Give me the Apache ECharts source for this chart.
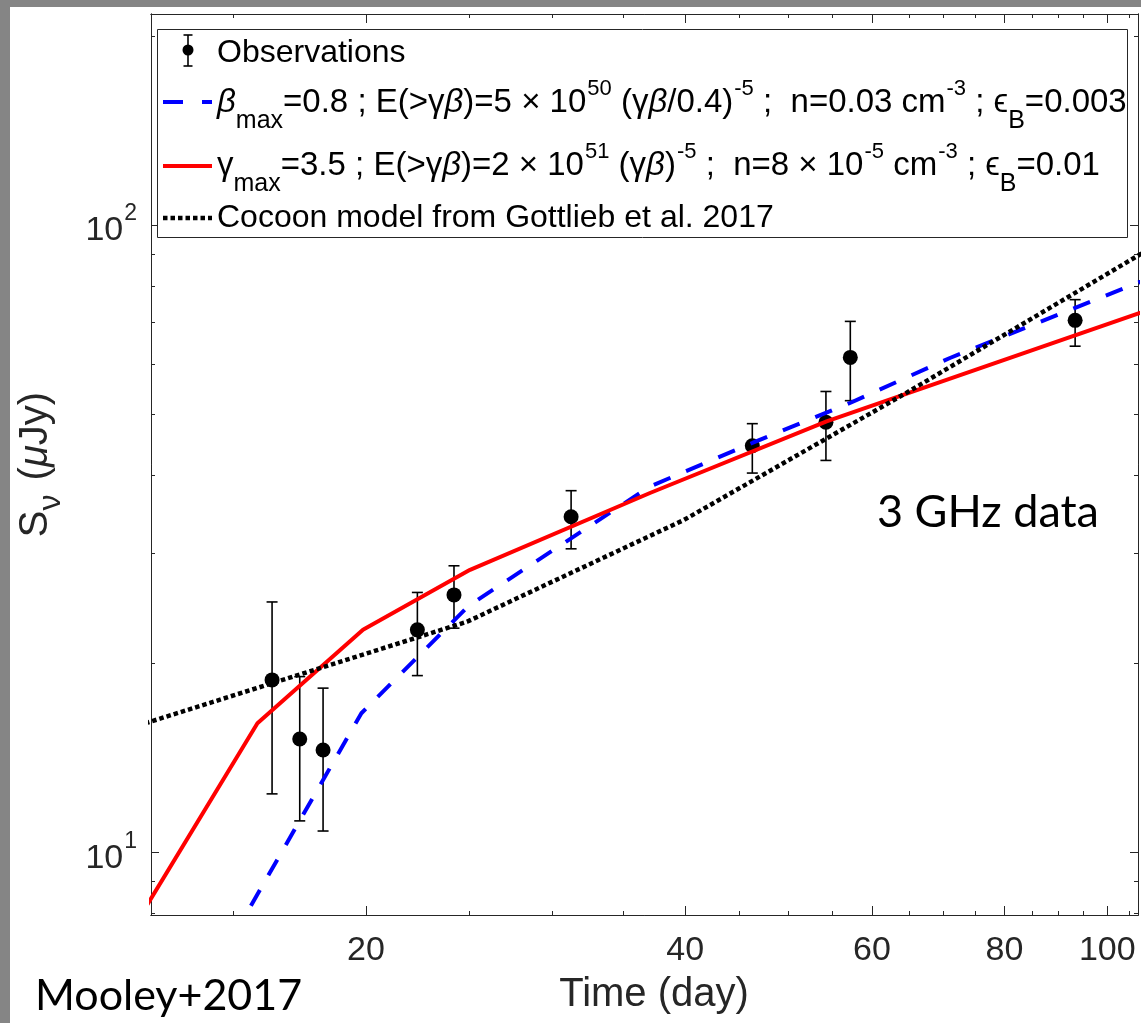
<!DOCTYPE html>
<html><head><meta charset="utf-8">
<script src="https://cdn.jsdelivr.net/npm/echarts@6/dist/echarts.min.js"></script>
<style>html,body{margin:0;padding:0;background:#fff}#c{width:1141px;height:1023px}</style>
</head><body><div id="c"></div>
<script>
// ---------------- data ----------------
const obsDay  = [16.31, 17.32, 18.22, 22.36, 24.21, 31.22, 46.27, 54.29, 57.24, 93.26];
const obsFlux = [18.84, 15.17, 14.57, 22.64, 25.74, 34.29, 44.5, 48.49, 61.54, 70.5];
const obsLow  = [12.4, 11.23, 10.82, 19.14, 22.78, 30.48, 40.25, 42.16, 52.5, 64.12];
const obsHigh = [25.08, 19.07, 18.28, 25.97, 28.64, 37.73, 48.25, 54.3, 70.23, 76.06];

const blueDay  = [15, 19.8, 25, 37.05, 46.27, 57.2, 71.06, 110];
const blueFlux = [7.36, 16.67, 24.74, 38.32, 44.95, 52.05, 61.4, 82.5];

const redDay  = [12, 15.8, 19.87, 25.07, 37.05, 54.37, 110];
const redFlux = [7.47, 16.07, 22.64, 28.22, 37.41, 48.64, 73.5];

const blackDay  = [12, 24.9, 39.9, 64.45, 110];
const blackFlux = [15.8, 23.32, 33.9, 53.86, 92.0];

const xTickLabels = [20, 40, 60, 80, 100];
const xMinorTicks = [15, 25, 30, 35, 45, 50, 55, 65, 70, 75, 85, 90, 95, 105];
const yTickLabels = [10, 100];
const yMinorTicks = [8, 9, 20, 30, 40, 50, 60, 70, 80, 90, 200];

const xRange = [12.54, 106.9];
const yRange = [7.95, 217];

// ---------------- style ----------------
const F = '"Liberation Sans", Arial, Helvetica, sans-serif';
const G = 'Lato, "Open Sans", sans-serif';
const TXT = '#262626';

const zip = (a, b) => a.map((v, i) => [v, b[i]]);

function xAx(pos, ticks, len, labels) {
  return {
    type: 'log', logBase: 10, min: xRange[0], max: xRange[1], position: pos,
    nameMoveOverlap: false,
    axisLine: { show: true, onZero: false, lineStyle: { color: TXT, width: 1 } },
    axisTick: { show: true, inside: true, length: len, customValues: ticks, lineStyle: { color: TXT, width: 1 } },
    axisLabel: labels ? {
      show: true, customValues: ticks, margin: 19, color: TXT, fontFamily: F, fontSize: 34,
      formatter: v => String(Math.round(v))
    } : { show: false },
    splitLine: { show: false }, minorTick: { show: false }, minorSplitLine: { show: false }
  };
}
function yAx(pos, ticks, len, labels) {
  return {
    type: 'log', logBase: 10, min: yRange[0], max: yRange[1], position: pos,
    nameMoveOverlap: false,
    axisLine: { show: true, onZero: false, lineStyle: { color: TXT, width: 1 } },
    axisTick: { show: true, inside: true, length: len, customValues: ticks, lineStyle: { color: TXT, width: 1 } },
    axisLabel: labels ? {
      show: true, customValues: ticks, margin: 14, color: TXT, fontFamily: F,
      formatter: v => '{b|10}{s|' + Math.round(Math.log10(v)) + '}',
      rich: {
        b: { fontSize: 34, fontFamily: F, color: TXT, padding: [12, 0, 0, 0], verticalAlign: 'middle' },
        s: { fontSize: 23, fontFamily: F, color: TXT, padding: [0, 0, 22, 1], verticalAlign: 'middle' }
      }
    } : { show: false },
    splitLine: { show: false }, minorTick: { show: false }, minorSplitLine: { show: false }
  };
}

const xAxes = [xAx('bottom', xTickLabels, 9, true), xAx('bottom', xMinorTicks, 4, false),
               xAx('top', xTickLabels, 9, false), xAx('top', xMinorTicks, 4, false)];
xAxes[0].name = 'Time (day)';
xAxes[0].nameLocation = 'middle';
xAxes[0].nameGap = 60;
xAxes[0].nameTextStyle = { color: TXT, fontFamily: F, fontSize: 40, padding: [0, 0, 0, 19] };

const yAxes = [yAx('left', yTickLabels, 8, true), yAx('left', yMinorTicks, 4, false),
               yAx('right', yTickLabels, 8, false), yAx('right', yMinorTicks, 4, false)];
yAxes[0].name = '{a|S}{sub|ν}{a| (}{i|μ}{a|Jy)}';
yAxes[0].nameLocation = 'middle';
yAxes[0].nameGap = 84;
yAxes[0].nameTextStyle = {
  color: TXT, fontFamily: F, fontSize: 40,
  rich: {
    a: { fontSize: 40, fontFamily: F, color: TXT, verticalAlign: 'middle' },
    i: { fontSize: 40, fontFamily: F, color: TXT, fontStyle: 'italic', verticalAlign: 'middle' },
    sub: { fontSize: 32, fontFamily: F, color: TXT, padding: [30, 3, 0, 0], verticalAlign: 'middle' }
  }
};

// legend rich styles
const LFS = 33;
const legRich = {
  bi: { fontSize: LFS, fontFamily: F, fontStyle: 'italic', fill: '#000', verticalAlign: 'middle' },
  g: { fontSize: LFS, fontFamily: F, fill: '#000', verticalAlign: 'middle' },
  sub: { fontSize: 25, fontFamily: F, fill: '#000', padding: [37, 0, 0, 0], verticalAlign: 'middle' },
  sup: { fontSize: 22, fontFamily: F, fill: '#000', padding: [0, 0, 28, 1], verticalAlign: 'middle' }
};
const row2 = '{bi|β}{sub|max}=0.8 ; E(>γ{bi|β})=5 × 10{sup|50} (γ{bi|β}/0.4){sup|-5} ;  n=0.03 cm{sup|-3} ; ϵ{sub|B}=0.003';
const row3 = '{g|γ}{sub|max}=3.5 ; E(>γ{bi|β})=2 × 10{sup|51} (γ{bi|β}){sup|-5} ;  n=8 × 10{sup|-5} cm{sup|-3} ; ϵ{sub|B}=0.01';

function legText(y, text, size) {
  return { type: 'text', z: 102, style: { x: 217, y: y, text: text, rich: legRich,
    fontSize: size || LFS, fontFamily: F, fill: '#000', align: 'left', verticalAlign: 'middle' } };
}

const chart = echarts.init(document.getElementById('c'), null, { renderer: 'canvas' });
chart.setOption({
  backgroundColor: '#ffffff',
  animation: false,
  grid: { left: 151, right: 3, top: 14, bottom: 108, outerBoundsMode: 'none', containLabel: false },
  xAxis: xAxes,
  yAxis: yAxes,
  series: [
    {
      name: 'Observations', type: 'custom', xAxisIndex: 0, yAxisIndex: 0, z: 2,
      data: obsDay.map((d, i) => [d, obsLow[i], obsHigh[i]]),
      encode: { x: 0, y: [1, 2] },
      renderItem: function (params, api) {
        const x = api.value(0);
        const top = api.coord([x, api.value(2)]);
        const bot = api.coord([x, api.value(1)]);
        const w = 5.5, st = { stroke: '#000', lineWidth: 1.6 };
        return { type: 'group', children: [
          { type: 'line', shape: { x1: top[0], y1: top[1], x2: bot[0], y2: bot[1] }, style: st },
          { type: 'line', shape: { x1: top[0] - w, y1: top[1], x2: top[0] + w, y2: top[1] }, style: st },
          { type: 'line', shape: { x1: bot[0] - w, y1: bot[1], x2: bot[0] + w, y2: bot[1] }, style: st }
        ]};
      }
    },
    {
      name: 'Observations', type: 'scatter', xAxisIndex: 0, yAxisIndex: 0, z: 2,
      symbol: 'circle', symbolSize: 15, itemStyle: { color: '#000', opacity: 1 },
      data: zip(obsDay, obsFlux)
    },
    {
      name: 'beta', type: 'line', xAxisIndex: 0, yAxisIndex: 0, z: 3, symbol: 'none', clip: true,
      lineStyle: { color: '#0000ff', width: 4, type: [18, 17], cap: 'butt' },
      data: zip(blueDay, blueFlux)
    },
    {
      name: 'gamma', type: 'line', xAxisIndex: 0, yAxisIndex: 0, z: 4, symbol: 'none', clip: true,
      lineStyle: { color: '#ff0000', width: 4 },
      data: zip(redDay, redFlux)
    },
    {
      name: 'cocoon', type: 'line', xAxisIndex: 0, yAxisIndex: 0, z: 5, symbol: 'none', clip: true,
      lineStyle: { color: '#000000', width: 4.5, type: [4.5, 3], cap: 'butt' },
      data: zip(blackDay, blackFlux)
    }
  ],
  graphic: [
    { type: 'rect', z: 0, shape: { x: 0, y: 0, width: 10, height: 1023 }, style: { fill: '#858585' } },
    { type: 'rect', z: 0, shape: { x: 0, y: 0, width: 1141, height: 7 }, style: { fill: '#858585' } },
    { type: 'rect', z: 100, shape: { x: 157.5, y: 29.5, width: 970, height: 208 },
      style: { fill: '#ffffff', stroke: TXT, lineWidth: 1 } },
    { type: 'line', z: 101, shape: { x1: 188, y1: 35, x2: 188, y2: 66 }, style: { stroke: '#000', lineWidth: 1.6 } },
    { type: 'line', z: 101, shape: { x1: 183.5, y1: 35, x2: 192.5, y2: 35 }, style: { stroke: '#000', lineWidth: 1.6 } },
    { type: 'line', z: 101, shape: { x1: 183.5, y1: 66, x2: 192.5, y2: 66 }, style: { stroke: '#000', lineWidth: 1.6 } },
    { type: 'circle', z: 101, shape: { cx: 188, cy: 50, r: 5.5 }, style: { fill: '#000' } },
    { type: 'line', z: 101, shape: { x1: 163, y1: 102, x2: 212, y2: 102 }, style: { stroke: '#0000ff', lineWidth: 4, lineDash: [20, 19] } },
    { type: 'line', z: 101, shape: { x1: 163, y1: 166, x2: 212, y2: 166 }, style: { stroke: '#ff0000', lineWidth: 4 } },
    { type: 'line', z: 101, shape: { x1: 163, y1: 218, x2: 212, y2: 218 }, style: { stroke: '#000', lineWidth: 4.5, lineDash: [4.5, 3] } },
    legText(53, 'Observations', 32),
    legText(103, row2),
    legText(166, row3),
    legText(218, 'Cocoon model from Gottlieb et al. 2017', 32),
    { type: 'text', z: 102, style: { x: 877, y: 512, text: '3 GHz data', fontFamily: G, fontSize: 45, fill: '#000', align: 'left', verticalAlign: 'middle' } },
    { type: 'text', z: 102, style: { x: 35, y: 996, text: 'Mooley+2017', fontFamily: G, fontSize: 43, fill: '#000', align: 'left', verticalAlign: 'middle' } }
  ]
});
</script>
</body></html>
